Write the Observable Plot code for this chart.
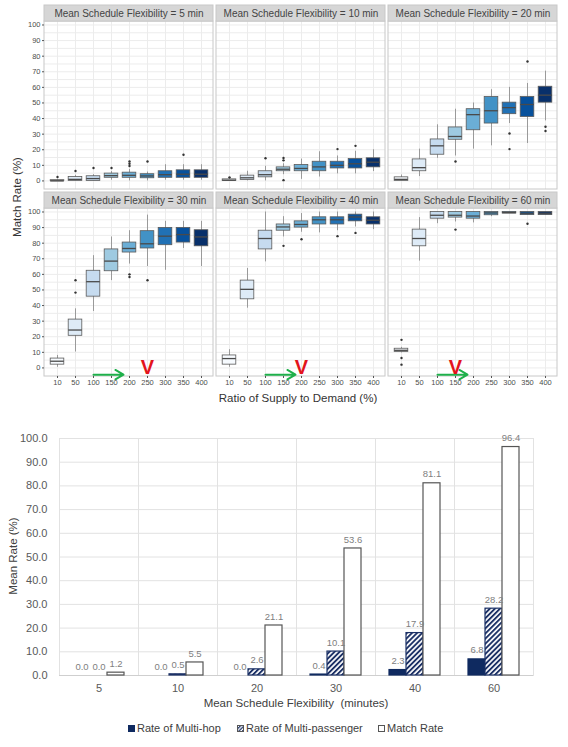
<!DOCTYPE html>
<html>
<head>
<meta charset="utf-8">
<script src="https://cdn.jsdelivr.net/npm/d3@7"></script>
<script src="https://cdn.jsdelivr.net/npm/@observablehq/plot@0.6"></script>
<style>
  html, body { margin: 0; padding: 0; background: white; }
  #wrap { position: relative; width: 568px; height: 747px; font-family: "Liberation Sans", Arial, sans-serif; overflow: hidden; }
  #top { position: absolute; left: 0; top: 0; }
  #bottom { position: absolute; left: 0; top: 410px; }
  .lbl { position: absolute; white-space: pre; transform: translate(-50%, -50%); font-size: 11.5px; }
  .legend { position: absolute; top: 728px; transform: translateY(-50%); font-size: 11px; color: #404040; display: flex; align-items: center; white-space: nowrap; }
  .legend svg { margin-right: 2px; }
</style>
</head>
<body>
<div id="wrap">
  <div id="top"></div>
  <div id="bottom"></div>
  <div class="lbl" style="left:17px; top:197px; transform: translate(-50%,-50%) rotate(-90deg); color:#333;">Match Rate (%)</div>
  <div class="lbl" style="left:298px; top:398px; color:#333;">Ratio of Supply to Demand (%)</div>
  <div class="lbl" style="left:13px; top:556px; transform: translate(-50%,-50%) rotate(-90deg); color:#404040;">Mean Rate (%)</div>
  <div class="lbl" style="left:296px; top:703px; color:#404040;">Mean Schedule Flexibility  (minutes)</div>
  <div id="legend"></div>
</div>
<script>
// ---------- Top chart data (box plots) ----------
const flexibilities = [5, 10, 20, 30, 40, 60];
const ratios = ["10", "50", "100", "150", "200", "250", "300", "350", "400"];
const blues = ["#f7fbff", "#deebf7", "#c6dbef", "#9ecae1", "#6baed6", "#4292c6", "#2171b5", "#08519c", "#08306b"];

const whiskerLow = [
  [0, 0, 0, 0.5, 0, 0, 0.5, 0.5, 0.5],
  [0, 0, 0, 4, 1, 2.5, 4.5, 4.5, 6],
  [0, 2.8, 14.5, 16, 20.4, 22.5, 36.8, 24, 38.5],
  [0.4, 10.2, 36.2, 56, 66.6, 65, 62.6, 76.6, 65],
  [0.4, 38.3, 68, 84, 87, 86.6, 88, 90.4, 88.7],
  [9.6, 68.5, 92.5, 93.6, 93, 97, 99, 98, 98]
];
const q1 = [
  [0, 0, 0, 2, 2, 1.7, 2, 2, 2],
  [0, 0.6, 2.3, 6.2, 6.2, 6.2, 8, 8, 8.7],
  [0, 6.2, 16.8, 26.4, 32.5, 36.8, 42.8, 41, 50.2],
  [2.1, 20.6, 45.7, 62, 74, 76.6, 78.7, 80.4, 78],
  [2.1, 44, 76, 88, 90, 92, 92, 94, 92],
  [10.2, 78, 95.7, 96.4, 95.7, 97.9, 99, 98, 98]
];
const median = [
  [0, 1, 1.5, 3.4, 3.6, 3.2, 4, 4.3, 4.3],
  [0.5, 2, 4, 7.5, 8, 9, 10, 11, 12],
  [1, 8.5, 22.5, 28.5, 42.5, 45, 47, 49, 55],
  [4.3, 24.3, 55.3, 68.5, 76.6, 79.6, 84.5, 85.5, 84],
  [6, 50.4, 83, 90.4, 92, 95, 95, 96.8, 94.7],
  [11.3, 83, 97.9, 97.9, 97.4, 99.4, 99.6, 99.2, 99.2]
];
const q3 = [
  [0.5, 2.5, 3, 4.7, 5.3, 4.3, 6.2, 6.8, 6.8],
  [1, 3.4, 6.2, 8.7, 10.2, 12.3, 12.3, 14, 14.5],
  [2.3, 13.8, 26.6, 34.3, 46, 53.8, 50.2, 53.8, 60.4],
  [6, 31, 62.3, 76, 80.4, 87.7, 89.8, 89.8, 88.3],
  [8, 56, 88, 92, 94, 96.6, 96.6, 98.3, 96.6],
  [12.3, 88.7, 100, 100, 100, 100, 100, 100, 100]
];
const whiskerHigh = [
  [1, 3.6, 4, 6, 7.4, 5.7, 10.4, 10.4, 10.4],
  [1.5, 6.2, 9.4, 11, 14, 18.7, 16, 19, 20],
  [3.8, 20.4, 36, 46, 50, 58.5, 60, 62.5, 70.4],
  [8, 37.9, 72, 84, 88, 98, 94, 94, 94],
  [11.7, 63.8, 100, 97, 99, 100, 100, 100, 100],
  [13.2, 96.4, 100, 100, 100, 100, 100, 100, 100]
];
// outliers: [flexibility, ratio, value]
const outliers = [
  [5, "10", 2.5], [5, "50", 6.4], [5, "100", 8.3], [5, "150", 8.3], [5, "200", 9.6], [5, "200", 11], [5, "200", 12.5], [5, "250", 12.5], [5, "350", 16.8],
  [10, "10", 2.3], [10, "100", 14.5], [10, "150", 13.2], [10, "150", 14.7], [10, "150", 0.5], [10, "300", 20.4], [10, "350", 22.5],
  [20, "150", 12.5], [20, "300", 30.4], [20, "300", 20.4], [20, "350", 76.6], [20, "400", 34.7], [20, "400", 32],
  [30, "50", 56.2], [30, "50", 48.3], [30, "200", 60], [30, "200", 58.3], [30, "250", 56.2],
  [40, "150", 78.3], [40, "200", 82.5], [40, "300", 84.5], [40, "350", 86.6],
  [60, "10", 18], [60, "10", 6.4], [60, "10", 2.1], [60, "150", 88.7], [60, "350", 92.5]
];
// annotations: green arrow start/end and red mark position per flexibility
const arrowFlex = [30, 40, 60];
const arrowFrom = ["100", "100", "100"];
const arrowTo = ["200", "200", "200"];
const markAt = ["250", "200", "150"];

// ---------- Bottom chart data ----------
const categories = ["5", "10", "20", "30", "40", "60"];
const seriesNames = ["Rate of Multi-hop", "Rate of Multi-passenger", "Match Rate"];
const multiHop = [0.0, 0.0, 0.0, 0.4, 2.3, 6.8];
const multiPassenger = [0.0, 0.5, 2.6, 10.1, 17.9, 28.2];
const matchRate = [1.2, 5.5, 21.1, 53.6, 81.1, 96.4];

// ---------- Build top chart ----------
const colOf = f => flexibilities.indexOf(f) % 3;
const rowOf = f => Math.floor(flexibilities.indexOf(f) / 3);
const panels = flexibilities.map(f => ({col: colOf(f), row: rowOf(f), label: `Mean Schedule Flexibility = ${f} min`}));
const boxes = [];
flexibilities.forEach((f, i) => ratios.forEach((r, j) => boxes.push({
  col: colOf(f), row: rowOf(f), ratio: r,
  lo: whiskerLow[i][j], q1: q1[i][j], med: median[i][j], q3: q3[i][j], hi: whiskerHigh[i][j]
})));
const outlierRows = outliers.map(([f, r, v]) => ({col: colOf(f), row: rowOf(f), ratio: r, value: v}));
const arrows = arrowFlex.map((f, i) => ({col: colOf(f), row: rowOf(f), from: arrowFrom[i], to: arrowTo[i], at: markAt[i]}));

const Y0 = -5.5, YP = 102.2, YS = 112.5;
const topChart = Plot.plot({
  width: 568, height: 410,
  marginTop: 5, marginLeft: 43, marginRight: 11, marginBottom: 33,
  style: {fontFamily: "Liberation Sans, Arial, sans-serif", fontSize: "7.5px", color: "#4d4d4d", background: "white"},
  fx: {domain: [0, 1, 2], paddingInner: 0.018, paddingOuter: 0, axis: null},
  fy: {domain: [0, 1], paddingInner: 0.016, paddingOuter: 0, axis: null},
  x: {type: "band", domain: ratios, paddingInner: 0, paddingOuter: 0.1, label: null},
  y: {domain: [Y0, YS], label: null},
  color: {type: "ordinal", domain: ratios, range: blues},
  marks: [
    Plot.rect(panels, {fx: "col", fy: "row", y1: Y0, y2: YP, fill: "white"}),
    Plot.ruleY(panels.flatMap(p => d3.range(0, 101, 5).map(v => ({...p, v}))), {fx: "col", fy: "row", y: "v", stroke: "#ececec"}),
    Plot.ruleX(boxes, {fx: "col", fy: "row", x: "ratio", y1: Y0, y2: YP, stroke: "#ececec"}),
    Plot.rect(panels, {fx: "col", fy: "row", y1: Y0, y2: YP, fill: "none", stroke: "#c8c8c8"}),
    Plot.rect(panels, {fx: "col", fy: "row", y1: YP, y2: YS, fill: "#d6d6d6", stroke: "#c8c8c8"}),
    Plot.text(panels, {fx: "col", fy: "row", y: (YP + YS) / 2, text: "label", frameAnchor: "middle", fontSize: 10, fontWeight: "normal", fill: "#444"}),
    Plot.ruleX(boxes, {fx: "col", fy: "row", x: "ratio", y1: "lo", y2: "hi", stroke: "#9a9a9a"}),
    Plot.barY(boxes, {fx: "col", fy: "row", x: "ratio", y1: "q1", y2: "q3", fill: "ratio", stroke: "#5a5a5a", strokeWidth: 0.8, insetLeft: 2.2, insetRight: 2.2}),
    Plot.tickY(boxes, {fx: "col", fy: "row", x: "ratio", y: "med", stroke: "#4a4a4a", strokeWidth: 1.3, insetLeft: 2.2, insetRight: 2.2}),
    Plot.dot(outlierRows, {fx: "col", fy: "row", x: "ratio", y: "value", r: 1.2, fill: "#333", stroke: "none"}),
    Plot.arrow(arrows, {fx: "col", fy: "row", x1: "from", x2: "to", y1: -4.3, y2: -4.3, stroke: "#1fb04b", strokeWidth: 2, headLength: 7, insetEnd: 6, bend: 0}),
    Plot.text(arrows, {fx: "col", fy: "row", x: "at", y: Y0, text: () => "V", lineAnchor: "bottom", dy: -3, fontSize: 20, fontWeight: 900, fill: "#e3141b"}),
    Plot.axisY({ticks: d3.range(0, 101, 10), tickSize: 2, tickPadding: 2, label: null, stroke: "#555"}),
    Plot.axisX({tickSize: 2, tickPadding: 1.5, label: null, stroke: "#555"})
  ]
});
document.getElementById("top").appendChild(topChart);

// ---------- Build bottom chart ----------
const table = categories.flatMap((c, i) => [
  {cat: c, series: seriesNames[0], value: multiHop[i]},
  {cat: c, series: seriesNames[1], value: multiPassenger[i]},
  {cat: c, series: seriesNames[2], value: matchRate[i]}
]);
const navy = "#0f2a60";
const fills = {[seriesNames[0]]: navy, [seriesNames[1]]: "url(#hatch)", [seriesNames[2]]: "white"};
const strokes = {[seriesNames[0]]: navy, [seriesNames[1]]: "#1c3166", [seriesNames[2]]: "#555"};

const bottomChart = Plot.plot({
  width: 568, height: 302,
  marginTop: 28, marginLeft: 57, marginRight: 33, marginBottom: 37,
  style: {fontFamily: "Liberation Sans, Arial, sans-serif", fontSize: "11px", color: "#595959", background: "white"},
  fx: {domain: categories, paddingInner: 0, paddingOuter: 0, label: null, tickSize: 0, tickPadding: 9},
  x: {domain: seriesNames, paddingInner: 0, paddingOuter: 0.777, axis: null},
  y: {domain: [0, 100], label: null},
  marks: [
    Plot.gridY({ticks: d3.range(10, 101, 10), stroke: "#e2e2e2", strokeOpacity: 1}),
    Plot.frame({stroke: "#e2e2e2"}),
    Plot.ruleY([0], {stroke: "#cfcfcf"}),
    Plot.barY(table, {fx: "cat", x: "series", y: "value",
      fill: d => fills[d.series],
      stroke: d => d.value > 0 ? strokes[d.series] : "none",
      strokeWidth: 1.2}),
    Plot.text(table, {fx: "cat", x: "series", y: "value", text: d => d.value.toFixed(1), dy: -9, fontSize: 9.5, fill: "#808080"}),
    Plot.axisY({ticks: d3.range(0, 101, 10), tickFormat: d => d.toFixed(1), tickSize: 0, tickPadding: 12, label: null})
  ]
});
bottomChart.insertAdjacentHTML("afterbegin",
  `<defs><pattern id="hatch" patternUnits="userSpaceOnUse" width="3.6" height="3.6" patternTransform="rotate(45)">
     <rect width="3.6" height="3.6" fill="white"></rect><rect width="1.9" height="3.6" fill="#1c3166"></rect>
   </pattern></defs>`);
document.getElementById("bottom").appendChild(bottomChart);

// ---------- Legend ----------
const legendSwatches = [
  `<svg width="7" height="7"><rect x="0.5" y="0.5" width="6" height="6" fill="${navy}" stroke="${navy}"/></svg>`,
  `<svg width="7" height="7"><defs><pattern id="hatchL" patternUnits="userSpaceOnUse" width="2.5" height="2.5" patternTransform="rotate(45)"><rect width="2.5" height="2.5" fill="white"/><rect width="1.2" height="2.5" fill="#1c3166"/></pattern></defs><rect x="0.5" y="0.5" width="6" height="6" fill="url(#hatchL)" stroke="#555"/></svg>`,
  `<svg width="7" height="7"><rect x="0.5" y="0.5" width="6" height="6" fill="white" stroke="#555"/></svg>`
];
const legendLeft = [128, 237, 378];
const legendEl = document.getElementById("legend");
seriesNames.forEach((s, i) => {
  const div = document.createElement("div");
  div.className = "legend";
  div.style.left = legendLeft[i] + "px";
  div.innerHTML = legendSwatches[i] + `<span>${s}</span>`;
  legendEl.appendChild(div);
});
</script>
</body>
</html>
